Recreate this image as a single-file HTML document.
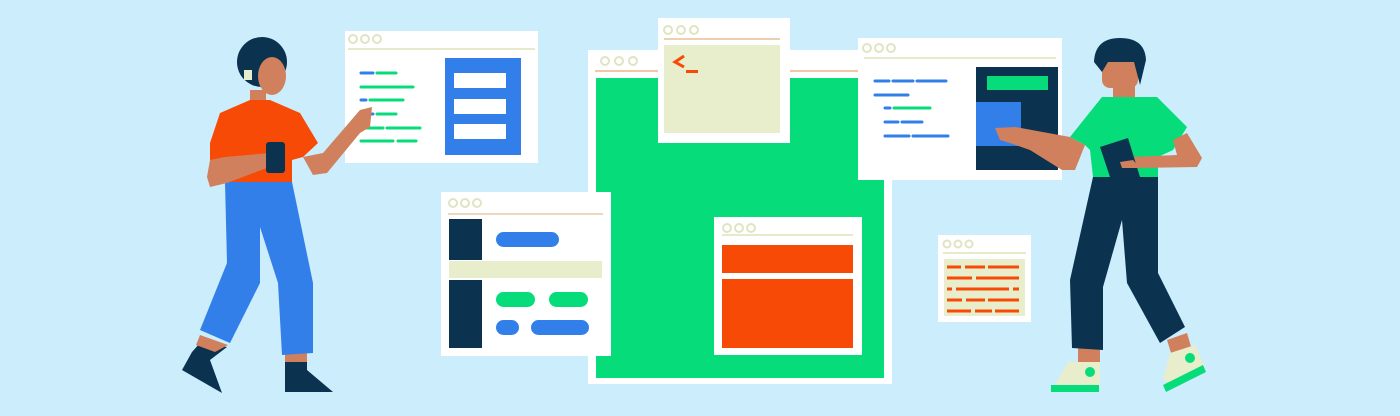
<!DOCTYPE html>
<html><head><meta charset="utf-8"><style>
html,body{margin:0;padding:0;background:#cbedfc;}
svg{display:block}
</style></head><body>
<svg width="1400" height="416" viewBox="0 0 1400 416" xmlns="http://www.w3.org/2000/svg">
<rect width="1400" height="416" fill="#cbedfc"/>
<!-- Window A -->
<rect x="345" y="31" width="193" height="132" fill="#fff"/>
<g fill="none" stroke="#e0e4c2" stroke-width="2"><circle cx="353" cy="39" r="4"/><circle cx="365" cy="39" r="4"/><circle cx="377" cy="39" r="4"/></g>
<rect x="348" y="48" width="187" height="2" fill="#e6eacb"/>
<rect x="445" y="58" width="76" height="97" fill="#327fea"/>
<rect x="454" y="73" width="52" height="15" fill="#fff"/>
<rect x="454" y="99" width="52" height="15" fill="#fff"/>
<rect x="454" y="124" width="52" height="15" fill="#fff"/>
<g stroke-width="3" stroke-linecap="round">
<line x1="361" y1="73" x2="373" y2="73" stroke="#327fea"/><line x1="377" y1="73" x2="396" y2="73" stroke="#07dc7a"/>
<line x1="361" y1="87" x2="413" y2="87" stroke="#07dc7a"/>
<line x1="361" y1="100" x2="366" y2="100" stroke="#327fea"/><line x1="370" y1="100" x2="403" y2="100" stroke="#07dc7a"/>
<line x1="366" y1="114" x2="373" y2="114" stroke="#327fea"/><line x1="377" y1="114" x2="396" y2="114" stroke="#07dc7a"/>
<line x1="366" y1="128" x2="383" y2="128" stroke="#07dc7a"/><line x1="387" y1="128" x2="420" y2="128" stroke="#07dc7a"/>
<line x1="361" y1="141" x2="393" y2="141" stroke="#07dc7a"/><line x1="398" y1="141" x2="416" y2="141" stroke="#07dc7a"/>
</g>
<!-- Big green window -->
<rect x="588" y="50" width="304" height="334" fill="#fff"/>
<g fill="none" stroke="#e0e4c2" stroke-width="2"><circle cx="605" cy="61" r="4"/><circle cx="619" cy="61" r="4"/><circle cx="633" cy="61" r="4"/></g>
<rect x="595" y="70" width="290" height="2" fill="#f0c8a8"/>
<rect x="596" y="78" width="288" height="300" fill="#07dc7a"/>
<!-- Terminal window -->
<rect x="658" y="18" width="132" height="125" fill="#fff"/>
<g fill="none" stroke="#e0e4c2" stroke-width="2"><circle cx="668" cy="30" r="4"/><circle cx="681" cy="30" r="4"/><circle cx="694" cy="30" r="4"/></g>
<rect x="664" y="38" width="116" height="2" fill="#eed0b0"/>
<rect x="664" y="45" width="116" height="88" fill="#e8edcc"/>
<polyline points="684,56 675,62 684,67" fill="none" stroke="#f84a07" stroke-width="3"/>
<rect x="686" y="70" width="12" height="3" fill="#f84a07"/>
<!-- Red window -->
<rect x="714" y="217" width="148" height="138" fill="#fff"/>
<g fill="none" stroke="#e0e4c2" stroke-width="2"><circle cx="727" cy="228" r="4"/><circle cx="739" cy="228" r="4"/><circle cx="751" cy="228" r="4"/></g>
<rect x="722" y="234" width="131" height="2" fill="#e6eacb"/>
<rect x="722" y="245" width="131" height="28" fill="#f84a07"/>
<rect x="722" y="279" width="131" height="69" fill="#f84a07"/>
<!-- Lower-left window -->
<rect x="441" y="192" width="170" height="164" fill="#fff"/>
<g fill="none" stroke="#e0e4c2" stroke-width="2"><circle cx="453" cy="203" r="4"/><circle cx="465" cy="203" r="4"/><circle cx="477" cy="203" r="4"/></g>
<rect x="448" y="213" width="155" height="2" fill="#ecd8be"/>
<rect x="449" y="219" width="33" height="41" fill="#0b3350"/>
<rect x="449" y="261" width="153" height="17" fill="#e8edcc"/>
<rect x="449" y="280" width="33" height="68" fill="#0b3350"/>
<rect x="496" y="232" width="63" height="15" rx="7.5" fill="#327fea"/>
<rect x="496" y="292" width="39" height="15" rx="7.5" fill="#07dc7a"/>
<rect x="549" y="292" width="39" height="15" rx="7.5" fill="#07dc7a"/>
<rect x="496" y="320" width="23" height="15" rx="7.5" fill="#327fea"/>
<rect x="531" y="320" width="58" height="15" rx="7.5" fill="#327fea"/>
<!-- Right window -->
<rect x="858" y="38" width="204" height="142" fill="#fff"/>
<g fill="none" stroke="#e0e4c2" stroke-width="2"><circle cx="867" cy="48" r="4"/><circle cx="879" cy="48" r="4"/><circle cx="891" cy="48" r="4"/></g>
<rect x="864" y="57" width="192" height="2" fill="#e6eacb"/>
<rect x="976" y="67" width="82" height="103" fill="#0b3350"/>
<rect x="987" y="76" width="61" height="14" fill="#07dc7a"/>
<rect x="976" y="102" width="45" height="44" fill="#327fea"/>
<g stroke-width="3" stroke-linecap="round">
<line x1="875" y1="81" x2="889" y2="81" stroke="#327fea"/><line x1="893" y1="81" x2="913" y2="81" stroke="#327fea"/><line x1="917" y1="81" x2="946" y2="81" stroke="#327fea"/>
<line x1="875" y1="95" x2="908" y2="95" stroke="#327fea"/>
<line x1="885" y1="108" x2="890" y2="108" stroke="#327fea"/><line x1="894" y1="108" x2="930" y2="108" stroke="#07dc7a"/>
<line x1="885" y1="122" x2="898" y2="122" stroke="#327fea"/><line x1="902" y1="122" x2="922" y2="122" stroke="#327fea"/>
<line x1="885" y1="136" x2="909" y2="136" stroke="#327fea"/><line x1="913" y1="136" x2="948" y2="136" stroke="#327fea"/>
</g>
<!-- Small window -->
<rect x="938" y="235" width="93" height="87" fill="#fff"/>
<g fill="none" stroke="#e0e4c2" stroke-width="2"><circle cx="947" cy="244" r="3.5"/><circle cx="958" cy="244" r="3.5"/><circle cx="969" cy="244" r="3.5"/></g>
<rect x="943" y="252" width="83" height="2" fill="#e6eacb"/>
<rect x="944" y="259" width="81" height="57" fill="#e8edcc"/>
<g stroke="#f84a07" stroke-width="3">
<line x1="947" y1="267" x2="961" y2="267"/><line x1="965" y1="267" x2="985" y2="267"/><line x1="988" y1="267" x2="1019" y2="267"/>
<line x1="947" y1="278" x2="972" y2="278"/><line x1="976" y1="278" x2="1019" y2="278"/>
<line x1="947" y1="289" x2="952" y2="289"/><line x1="956" y1="289" x2="1009" y2="289"/><line x1="1013" y1="289" x2="1019" y2="289"/>
<line x1="947" y1="300" x2="962" y2="300"/><line x1="966" y1="300" x2="985" y2="300"/><line x1="988" y1="300" x2="1019" y2="300"/>
<line x1="947" y1="311" x2="971" y2="311"/><line x1="975" y1="311" x2="992" y2="311"/><line x1="995" y1="311" x2="1019" y2="311"/>
</g>
<!-- Woman -->
<g>
<polygon points="200,343 227,347 210,360 222,393 182,370 192,352" fill="#0b3350"/>
<polygon points="285,355 307,355 307,370 333,392 285,392" fill="#0b3350"/>
<polygon points="200,335 228,345 215,352 196,345" fill="#d0805c"/>
<rect x="285" y="350" width="22" height="12" fill="#d0805c"/>
<polygon points="225,182 292,182 313,283 313,353 282,355 278,283 260,227 260,283 230,343 200,330 227,263" fill="#327fea"/>
<circle cx="262" cy="62" r="25" fill="#0b3350"/>
<rect x="250" y="90" width="16" height="14" fill="#d0805c"/>
<ellipse cx="272" cy="76" rx="14" ry="19" fill="#d0805c"/>
<rect x="244" y="70" width="8" height="10" fill="#e8edcc"/>
<polygon points="210,143 220,113 250,100 270,100 300,113 318,143 303,157 292,160 292,182 225,182 225,167 210,163" fill="#f84a07"/>
<polygon points="303,157 323,153 360,110 372,107 370,127 360,133 327,173 313,175" fill="#d0805c"/>
<polygon points="207,177 210,160 225,157 270,153 280,163 227,183 210,187" fill="#d0805c"/>
<rect x="266" y="142" width="19" height="31" rx="3" fill="#0b3350"/>
</g>
<!-- Man -->
<g>
<rect x="1078" y="345" width="22" height="18" fill="#d0805c"/>
<polygon points="1068,362 1100,362 1100,385 1055,385" fill="#e8edcc"/>
<rect x="1051" y="385" width="48" height="7" fill="#07dc7a"/>
<circle cx="1090" cy="372" r="5" fill="#07dc7a"/>
<polygon points="1167,340 1187,333 1192,350 1172,356" fill="#d0805c"/>
<polygon points="1170,353 1195,345 1205,367 1175,385 1163,380" fill="#e8edcc"/>
<polygon points="1163,385 1203,365 1206,372 1166,392" fill="#07dc7a"/>
<circle cx="1190" cy="358" r="5" fill="#07dc7a"/>
<polygon points="1093,177 1158,177 1158,273 1185,327 1160,343 1127,283 1122,220 1103,287 1103,350 1072,348 1070,280" fill="#0b3350"/>
<rect x="1113" y="82" width="22" height="20" fill="#d0805c"/>
<rect x="1102" y="58" width="36" height="30" rx="8" fill="#d0805c"/>
<path d="M1094,62 Q1095,38 1120,38 Q1145,38 1146,60 L1140,85 L1134,62 L1108,62 L1102,72 Z" fill="#0b3350"/>
<polygon points="1070,137 1102,97 1157,97 1187,127 1173,150 1158,157 1158,177 1093,177 1090,150 1085,145" fill="#07dc7a"/>
<polygon points="995,128 1015,127 1070,137 1085,145 1075,170 1062,170 1030,150 1010,143 1000,140" fill="#d0805c"/>
<polygon points="1173,140 1187,133 1202,158 1197,167 1133,168 1120,162 1130,157 1177,155" fill="#d0805c"/>
<polygon points="1100,147 1128,138 1140,177 1110,177" fill="#0b3350"/>
<polygon points="1120,162 1133,160 1140,168 1122,168" fill="#d0805c"/>
</g>
</svg>
</body></html>
